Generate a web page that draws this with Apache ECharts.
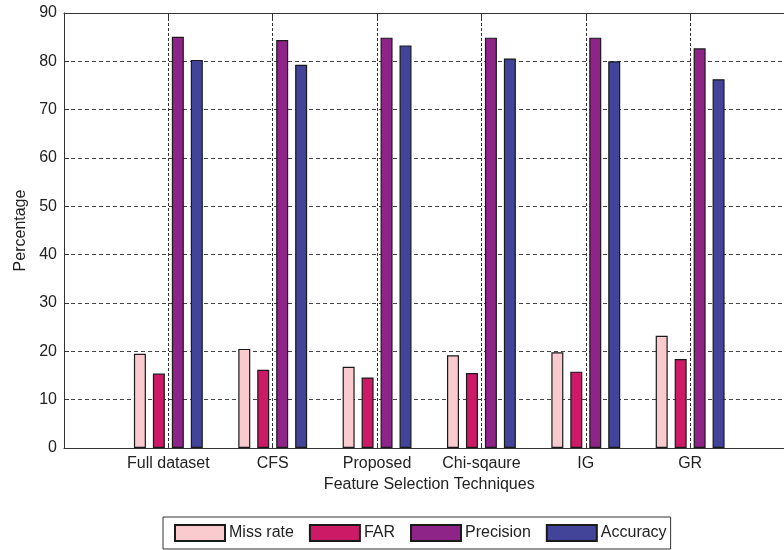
<!DOCTYPE html>
<html>
<head>
<meta charset="utf-8">
<script src="https://cdn.jsdelivr.net/npm/echarts@6/dist/echarts.min.js"></script>
<style>
  html, body { margin: 0; padding: 0; background: #ffffff; }
  #chart { width: 784px; height: 550px; }
</style>
</head>
<body>
<div id="chart"></div>
<script>
// Feature selection techniques compared on four metrics (percent)
const techniques = ['Full dataset', 'CFS', 'Proposed', 'Chi-sqaure', 'IG', 'GR'];
const missRate  = [19.5, 20.5, 16.8, 19.2, 19.8, 23.2];
const far       = [15.4, 16.2, 14.6, 15.5, 15.8, 18.4];
const precision = [85.1, 84.4, 84.9, 84.9, 84.9, 82.7];
const accuracy  = [80.3, 79.3, 83.3, 80.6, 80.0, 76.3];
const yTicks    = [0, 10, 20, 30, 40, 50, 60, 70, 80, 90];

// Axis runs from position 0 to 7, with the techniques at 1..6;
// the plot box extends a little past the right edge of the canvas
const axisCats = [''].concat(techniques, ['']);
const pad = arr => [null].concat(arr, [null]);

const FONT = 'Liberation Sans, Arial, sans-serif';
const ink = '#222222';

const seriesDefs = [
  { name: 'Miss rate', data: missRate,  color: '#F9CACE' },
  { name: 'FAR',       data: far,       color: '#CC1A66' },
  { name: 'Precision', data: precision, color: '#8E2388' },
  { name: 'Accuracy',  data: accuracy,  color: '#414499' }
];

const chart = echarts.init(document.getElementById('chart'), null, { renderer: 'canvas' });

chart.setOption({
  animation: false,
  backgroundColor: '#ffffff',
  textStyle: { fontFamily: FONT, color: ink },
  grid: {
    left: 64, top: 13, width: 730.5, height: 435,
    containLabel: false,
    outerBoundsMode: 'none'
  },
  legend: {
    left: 163,
    top: 517,
    orient: 'horizontal',
    itemWidth: 50,
    itemHeight: 16,
    itemGap: 15,
    padding: [7, 4, 7, 11],
    borderColor: '#333333',
    borderWidth: 1,
    icon: 'rect',
    textStyle: { fontFamily: FONT, fontSize: 16, color: ink, padding: [0, 0, 0, -1] },
    data: seriesDefs.map(s => s.name)
  },
  xAxis: [
    {
      type: 'category',
      data: axisCats,
      boundaryGap: false,
      position: 'bottom',
      name: 'Feature Selection Techniques',
      nameLocation: 'middle',
      nameGap: 28,
      nameTextStyle: { fontFamily: FONT, fontSize: 16, color: ink },
      axisLine: { show: true, lineStyle: { color: '#333333', width: 1 } },
      axisTick: { show: true, inside: true, length: 5, interval: 0, lineStyle: { color: '#333333' } },
      axisLabel: { show: true, interval: 0, fontFamily: FONT, fontSize: 16, color: ink, margin: 8 },
      splitLine: { show: true, interval: 0, lineStyle: { color: '#333333', type: [3, 2], width: 1 } }
    },
    {
      type: 'category',
      data: axisCats,
      boundaryGap: false,
      position: 'top',
      axisLine: { show: true, lineStyle: { color: '#333333', width: 1 } },
      axisTick: { show: true, inside: true, length: 6, interval: 0, lineStyle: { color: '#333333' } },
      axisLabel: { show: false },
      splitLine: { show: false }
    }
  ],
  yAxis: {
    type: 'value',
    min: yTicks[0],
    max: yTicks[yTicks.length - 1],
    interval: 10,
    name: 'Percentage',
    nameLocation: 'middle',
    nameGap: 34,
    nameRotate: 90,
    nameTextStyle: { fontFamily: FONT, fontSize: 16, color: ink },
    axisLine: { show: true, lineStyle: { color: '#333333', width: 1 } },
    axisTick: { show: true, inside: true, length: 5, lineStyle: { color: '#333333' } },
    axisLabel: { fontFamily: FONT, fontSize: 16, color: ink, margin: 7 },
    splitLine: { show: true, lineStyle: { color: '#444444', type: [4, 3], width: 1 } }
  },
  series: seriesDefs.map(s => ({
    name: s.name,
    type: 'bar',
    xAxisIndex: 0,
    data: pad(s.data),
    barWidth: 12,
    barGap: '58%',
    itemStyle: { color: s.color, borderColor: '#1a1a1a', borderWidth: 1.2 },
    emphasis: { disabled: true }
  }))
});
</script>
</body>
</html>
